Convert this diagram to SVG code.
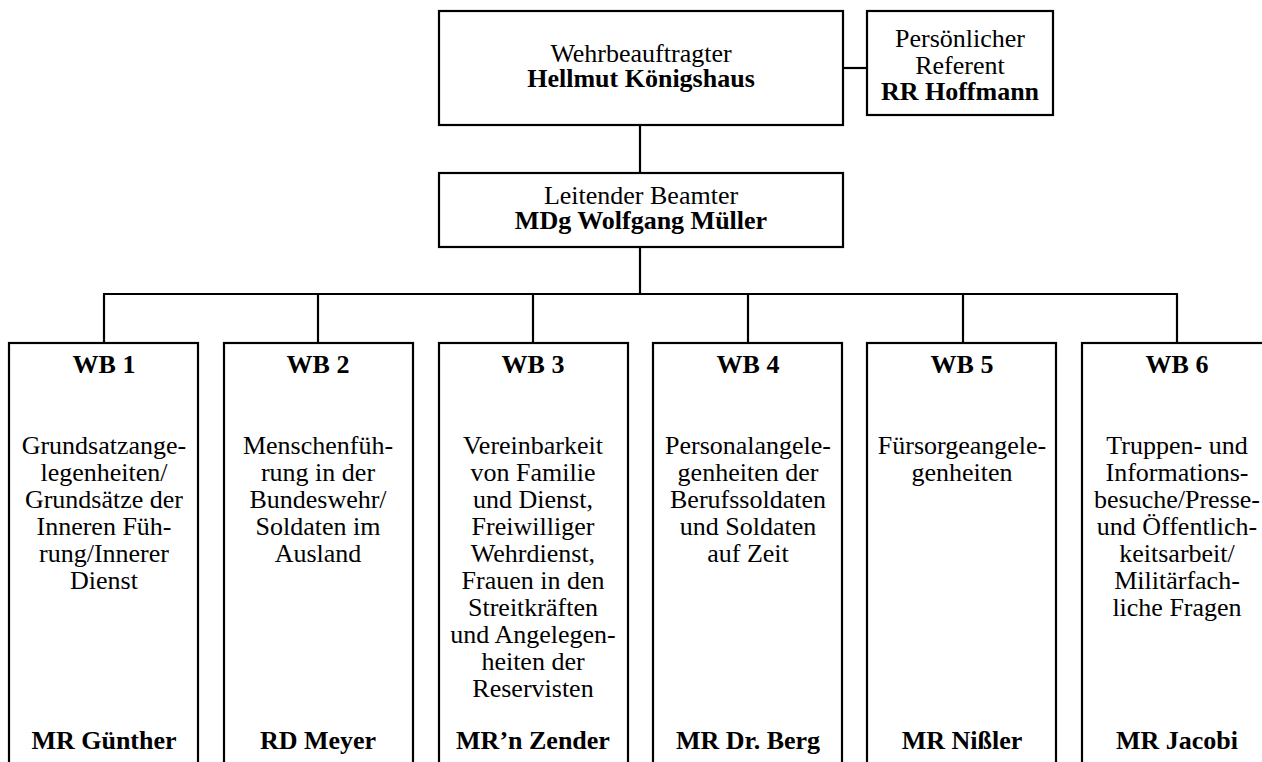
<svg xmlns="http://www.w3.org/2000/svg" width="1262" height="762" viewBox="0 0 1262 762">
<style>
.box{fill:#fff;stroke:#000;stroke-width:2.2}
.ln{fill:none;stroke:#000;stroke-width:2.2}
.t{font-family:'Liberation Serif','DejaVu Serif',serif;font-size:26px;fill:#000;text-anchor:middle}
.b{font-weight:bold}
</style>
<rect width="1262" height="762" fill="#fff"/>
<g id="connectors">
<line class="ln" x1="843" y1="68" x2="867" y2="68"/>
<line class="ln" x1="640" y1="125" x2="640" y2="173"/>
<line class="ln" x1="640" y1="247" x2="640" y2="294"/>
<line class="ln" x1="103" y1="294" x2="1178" y2="294"/>
<line class="ln" x1="104" y1="294" x2="104" y2="343"/>
<line class="ln" x1="318" y1="294" x2="318" y2="343"/>
<line class="ln" x1="533" y1="294" x2="533" y2="343"/>
<line class="ln" x1="748" y1="294" x2="748" y2="343"/>
<line class="ln" x1="963" y1="294" x2="963" y2="343"/>
<line class="ln" x1="1177" y1="294" x2="1177" y2="343"/>
</g>
<g class="t" font-family="Liberation Serif, DejaVu Serif, serif">
<g id="wehrbeauftragter">
<rect class="box" x="439" y="11" width="404" height="114"/>
<text x="641" y="62">Wehrbeauftragter</text>
<text class="b" x="641" y="87">Hellmut Königshaus</text>
</g>
<g id="referent">
<rect class="box" x="867" y="11" width="186" height="104"/>
<text x="960" y="47">Persönlicher</text>
<text x="960" y="74">Referent</text>
<text class="b" x="960" y="100">RR Hoffmann</text>
</g>
<g id="leitender">
<rect class="box" x="439" y="173" width="404" height="74"/>
<text x="641" y="204">Leitender Beamter</text>
<text class="b" x="641" y="229">MDg Wolfgang Müller</text>
</g>
<g id="wb1">
<rect class="box" x="9" y="343" width="189" height="460"/>
<text class="b" x="104" y="373">WB 1</text>
<text x="104" y="454">Grundsatzange-</text>
<text x="104" y="481">legenheiten/</text>
<text x="104" y="508">Grundsätze der</text>
<text x="104" y="535">Inneren Füh-</text>
<text x="104" y="562">rung/Innerer</text>
<text x="104" y="589">Dienst</text>
<text class="b" x="104" y="749">MR Günther</text>
</g>
<g id="wb2">
<rect class="box" x="224" y="343" width="189" height="460"/>
<text class="b" x="318" y="373">WB 2</text>
<text x="318" y="454">Menschenfüh-</text>
<text x="318" y="481">rung in der</text>
<text x="318" y="508">Bundeswehr/</text>
<text x="318" y="535">Soldaten im</text>
<text x="318" y="562">Ausland</text>
<text class="b" x="318" y="749">RD Meyer</text>
</g>
<g id="wb3">
<rect class="box" x="439" y="343" width="189" height="460"/>
<text class="b" x="533" y="373">WB 3</text>
<text x="533" y="454">Vereinbarkeit</text>
<text x="533" y="481">von Familie</text>
<text x="533" y="508">und Dienst,</text>
<text x="533" y="535">Freiwilliger</text>
<text x="533" y="562">Wehrdienst,</text>
<text x="533" y="589">Frauen in den</text>
<text x="533" y="616">Streitkräften</text>
<text x="533" y="643">und Angelegen-</text>
<text x="533" y="670">heiten der</text>
<text x="533" y="697">Reservisten</text>
<text class="b" x="533" y="749">MR’n Zender</text>
</g>
<g id="wb4">
<rect class="box" x="653" y="343" width="189" height="460"/>
<text class="b" x="748" y="373">WB 4</text>
<text x="748" y="454">Personalangele-</text>
<text x="748" y="481">genheiten der</text>
<text x="748" y="508">Berufssoldaten</text>
<text x="748" y="535">und Soldaten</text>
<text x="748" y="562">auf Zeit</text>
<text class="b" x="748" y="749">MR Dr. Berg</text>
</g>
<g id="wb5">
<rect class="box" x="867" y="343" width="189" height="460"/>
<text class="b" x="962" y="373">WB 5</text>
<text x="962" y="454">Fürsorgeangele-</text>
<text x="962" y="481">genheiten</text>
<text class="b" x="962" y="749">MR Nißler</text>
</g>
<g id="wb6">
<rect class="box" x="1082" y="343" width="189" height="460"/>
<text class="b" x="1177" y="373">WB 6</text>
<text x="1177" y="454">Truppen- und</text>
<text x="1177" y="481">Informations-</text>
<text x="1177" y="508">besuche/Presse-</text>
<text x="1177" y="535">und Öffentlich-</text>
<text x="1177" y="562">keitsarbeit/</text>
<text x="1177" y="589">Militärfach-</text>
<text x="1177" y="616">liche Fragen</text>
<text class="b" x="1177" y="749">MR Jacobi</text>
</g>
</g>
</svg>
